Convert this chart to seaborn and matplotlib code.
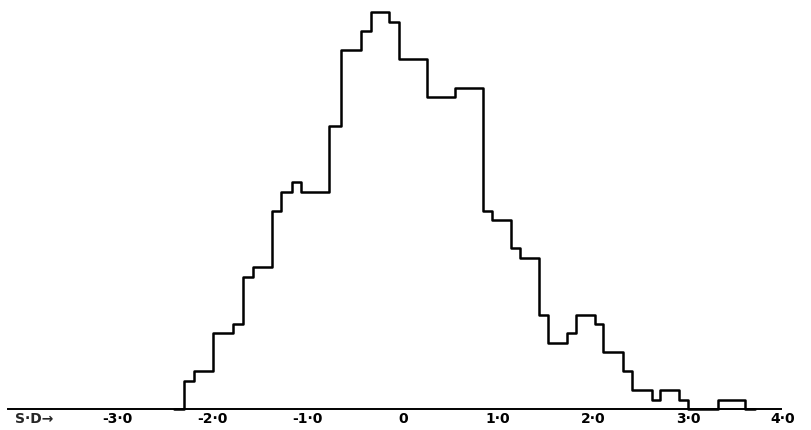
import numpy as np
import pandas as pd
import matplotlib
matplotlib.use("Agg")
import matplotlib.pyplot as plt
import seaborn as sns

# Class boundaries (in standard-deviation units) and frequency in each class
class_edges = [-2.30, -2.19, -1.99, -1.78, -1.68, -1.57, -1.37, -1.28, -1.16, -1.07,
               -0.77, -0.65, -0.44, -0.33, -0.14, -0.04, 0.26, 0.55, 0.84, 0.94,
               1.14, 1.23, 1.43, 1.53, 1.73, 1.82, 2.02, 2.11, 2.32, 2.41,
               2.62, 2.71, 2.91, 3.00, 3.31, 3.60]
class_counts = [3, 4, 8, 9, 14, 15, 21, 23, 24, 23,
                30, 38, 40, 42, 41, 37, 33, 34, 21, 20,
                17, 16, 10, 7, 8, 10, 9, 6, 4, 2,
                1, 2, 1, 0, 1]

tick_values = [-3, -2, -1, 0, 1, 2, 3, 4]
tick_labels = ["-3·0", "-2·0", "-1·0", "0", "1·0", "2·0", "3·0", "4·0"]
axis_caption = "S·D→"

sns.set_style("white")
plt.rcParams["font.family"] = ["DejaVu Sans"]

edges = np.array(class_edges)
table = pd.DataFrame({
    "sd": (edges[:-1] + edges[1:]) / 2,
    "freq": np.array(class_counts, dtype=float),
})
# empty classes on each side so the outline closes down to the base line
bins = [float(edges[0] - 0.1)] + [float(e) for e in edges] + [float(edges[-1] + 0.1)]

fig = plt.figure(figsize=(8.11, 4.30), dpi=100)
ax = fig.add_axes([0, 0, 1, 1])

sns.histplot(data=table, x="sd", weights="freq", bins=bins, element="step", fill=False,
             color="black", linewidth=1.8, ax=ax)

ax.set_xlim(-4.234, 4.293)
ax.set_ylim(-2.22, 43.28)

for side in ("left", "top", "right"):
    ax.spines[side].set_visible(False)
ax.spines["bottom"].set_position(("data", 0))
ax.spines["bottom"].set_bounds(-4.15, 3.98)
ax.spines["bottom"].set_linewidth(1.4)
ax.spines["bottom"].set_color("black")

ax.set_yticks([])
ax.set_xticks(tick_values)
ax.set_xticklabels(tick_labels, fontweight="bold", fontsize=10)
ax.tick_params(axis="x", length=0, pad=2, colors="black")
ax.set_xlabel("")
ax.set_ylabel("")

ax.annotate(axis_caption, xy=(-3.87, 0), xytext=(0, -2), textcoords="offset points",
            ha="center", va="top", fontweight="bold", fontsize=10)

fig.savefig("out.png", dpi=100, facecolor="white")
